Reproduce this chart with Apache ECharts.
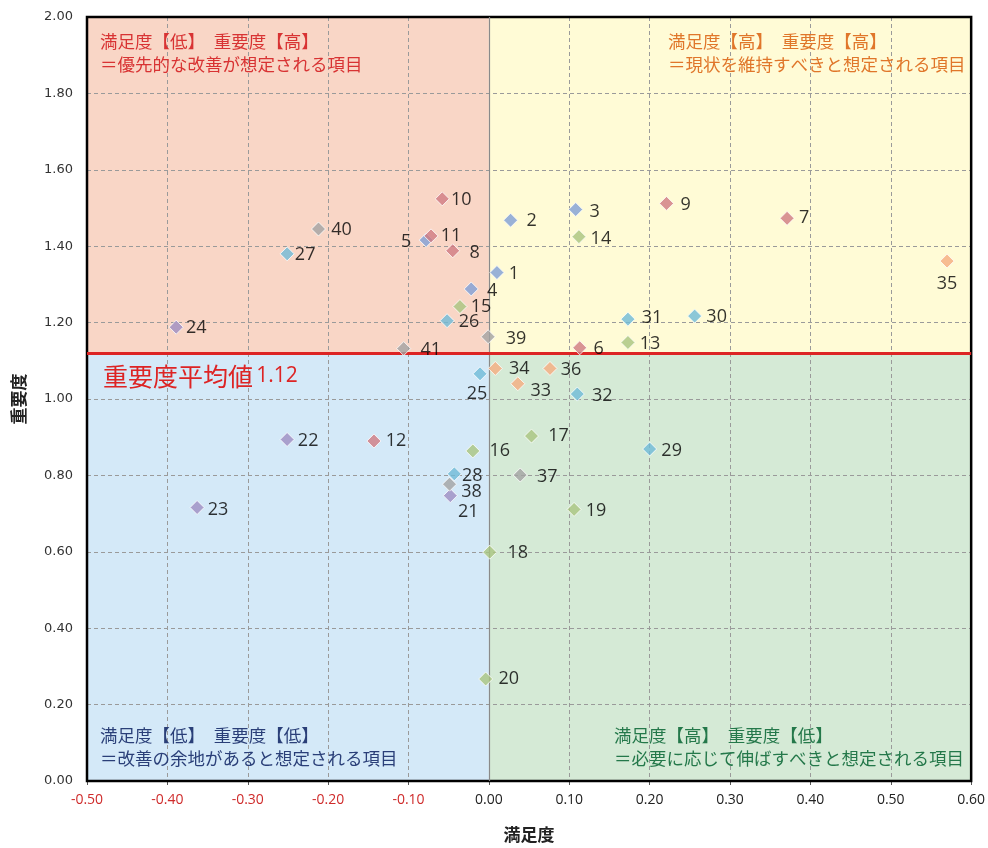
<!DOCTYPE html>
<html>
<head>
<meta charset="utf-8">
<script src="https://cdn.jsdelivr.net/npm/echarts@6/dist/echarts.min.js"></script>
<style>
  html, body { margin: 0; padding: 0; background: #fff; }
  #chart { width: 988px; height: 848px; }
</style>
</head>
<body>
<div id="chart"></div>
<script>
// Item numbers and their scores (満足度 = satisfaction, 重要度 = importance)
const itemIds = [1, 2, 3, 4, 5, 6, 7, 8, 9, 10, 11, 12, 13, 14, 15, 16, 17, 18, 19, 20,
  21, 22, 23, 24, 25, 26, 27, 28, 29, 30, 31, 32, 33, 34, 35, 36, 37, 38, 39, 40, 41];
const satisfaction = [0.010, 0.027, 0.108, -0.022, -0.078, 0.113, 0.371, -0.045, 0.221, -0.058,
  -0.072, -0.143, 0.173, 0.112, -0.036, -0.020, 0.053, 0.001, 0.106, -0.004,
  -0.048, -0.251, -0.363, -0.389, -0.011, -0.052, -0.251, -0.043, 0.200, 0.256,
  0.173, 0.110, 0.036, 0.008, 0.570, 0.076, 0.039, -0.049, -0.001, -0.212, -0.106];
const importance = [1.331, 1.468, 1.496, 1.288, 1.416, 1.134, 1.473, 1.388, 1.512, 1.524,
  1.427, 0.890, 1.148, 1.425, 1.242, 0.864, 0.903, 0.599, 0.711, 0.267,
  0.747, 0.894, 0.716, 1.188, 1.066, 1.205, 1.380, 0.804, 0.869, 1.217,
  1.209, 1.013, 1.040, 1.080, 1.361, 1.080, 0.801, 0.777, 1.163, 1.445, 1.132];
// Category group of each item (drives marker colour)
const itemGroup = ['A', 'A', 'A', 'A', 'A', 'B', 'B', 'B', 'B', 'B',
  'B', 'B', 'C', 'C', 'C', 'C', 'C', 'C', 'C', 'C',
  'D', 'D', 'D', 'D', 'E', 'E', 'E', 'E', 'E', 'E',
  'E', 'E', 'F', 'F', 'F', 'F', 'G', 'G', 'G', 'G', 'G'];
const importanceMean = 1.12;

// Axis ranges and ticks
const xMin = -0.5, xMax = 0.6, xStep = 0.1;
const yMin = 0, yMax = 2, yStep = 0.2;

// Styling tables
const groupColors = {
  A: '#7f9fd6', B: '#cf7b82', C: '#a9c47f', D: '#9e8dc2',
  E: '#6fbad7', F: '#f5ad80', G: '#a3a3a3'
};
// Label placement (dx, dy from the marker centre, in px)
const labelShift = {
  1: [17, 1], 2: [21, 1], 3: [19, 2], 4: [21, 2], 5: [-20, 2], 6: [19, 1], 7: [17, 0],
  8: [22, 2], 9: [19, 1], 10: [19, 1], 11: [20, 0], 12: [22, 0], 13: [22, 1], 14: [22, 2],
  15: [21, 0], 16: [27, 0], 17: [27, 0], 18: [28, 1], 19: [22, 1], 20: [23, 0], 21: [18, 16],
  22: [21, 1], 23: [21, 2], 24: [20, 1], 25: [-3, 20], 26: [22, 1], 27: [18, 1], 28: [18, 2],
  29: [22, 2], 30: [22, 1], 31: [24, -1], 32: [25, 2], 33: [23, 7], 34: [24, 0], 35: [0, 23],
  36: [21, 1], 37: [27, 2], 38: [22, 8], 39: [28, 2], 40: [23, 1], 41: [27, 1]
};

const LATIN = '"Open Sans", "Noto Sans", sans-serif';
const CJK = '"Noto Sans CJK JP", "Noto Sans", sans-serif';

// Build one scatter series per group
const groupNames = Object.keys(groupColors);
const pointSeries = groupNames.map(g => ({
  type: 'scatter',
  name: g,
  z: 6,
  symbol: 'diamond',
  symbolSize: 14,
  itemStyle: { color: groupColors[g], borderColor: '#ffffff', borderWidth: 1 },
  data: itemIds
    .map((id, i) => ({ id, i }))
    .filter(o => itemGroup[o.i] === g)
    .map(o => ({
      value: [satisfaction[o.i], importance[o.i]],
      label: { offset: labelShift[o.id] || [20, 0] },
      itemNo: o.id
    })),
  label: {
    show: true,
    position: 'inside',
    align: 'center',
    verticalAlign: 'middle',
    color: '#000',
    textBorderWidth: 0,
    textBorderColor: 'transparent',
    fontFamily: LATIN,
    fontWeight: 500,
    fontSize: 18,
    formatter: p => String(p.data.itemNo)
  }
}));

// Quadrant backgrounds and reference lines
const backdrop = {
  type: 'scatter',
  z: 1,
  silent: true,
  data: [],
  markArea: {
    silent: true,
    data: [
      [{ xAxis: xMin, yAxis: importanceMean, itemStyle: { color: '#f9d6c6' } }, { xAxis: 0, yAxis: yMax }],
      [{ xAxis: 0, yAxis: importanceMean, itemStyle: { color: '#fffbd6' } }, { xAxis: xMax, yAxis: yMax }],
      [{ xAxis: xMin, yAxis: yMin, itemStyle: { color: '#d4e9f8' } }, { xAxis: 0, yAxis: importanceMean }],
      [{ xAxis: 0, yAxis: yMin, itemStyle: { color: '#d5ead6' } }, { xAxis: xMax, yAxis: importanceMean }]
    ]
  }
};
const refLines = {
  type: 'scatter',
  z: 5,
  silent: true,
  data: [],
  markLine: {
    silent: true,
    symbol: 'none',
    label: { show: false },
    data: [
      [{ coord: [0, yMin], lineStyle: { color: '#8a8a8a', width: 1.2, type: 'solid' } }, { coord: [0, yMax] }],
      [{ coord: [xMin, importanceMean], lineStyle: { color: '#dd2424', width: 3, type: 'solid' } }, { coord: [xMax, importanceMean] }]
    ]
  }
};

const chart = echarts.init(document.getElementById('chart'), null, { renderer: 'canvas' });
chart.setOption({
  animation: false,
  backgroundColor: '#ffffff',
  grid: {
    left: 87, right: 15, top: 17, bottom: 67,
    show: true, z: 4,
    borderColor: '#000000', borderWidth: 2.5,
    backgroundColor: 'transparent'
  },
  xAxis: {
    type: 'value', min: xMin, max: xMax, interval: xStep, z: 3,
    name: '満足度', nameLocation: 'middle', nameGap: 45,
    nameTextStyle: { fontFamily: CJK, fontSize: 17, color: '#222', fontWeight: 'bold' },
    axisLine: { show: false },
    axisTick: { show: true, length: 4, lineStyle: { color: '#555' } },
    axisLabel: {
      margin: 12,
      fontFamily: LATIN, fontSize: 14,
      formatter: v => {
        const s = v.toFixed(2);
        return v < -1e-9 ? '{neg|' + s + '}' : '{pos|' + s + '}';
      },
      rich: {
        neg: { color: '#cf2b2b', fontFamily: LATIN, fontSize: 14 },
        pos: { color: '#222', fontFamily: LATIN, fontSize: 14 }
      }
    },
    splitLine: { show: true, lineStyle: { color: '#9a9a9a', type: [4, 3], width: 1 } }
  },
  yAxis: {
    type: 'value', min: yMin, max: yMax, interval: yStep, z: 3,
    name: '重要度', nameLocation: 'middle', nameGap: 60, nameRotate: 90,
    nameTextStyle: { fontFamily: CJK, fontSize: 17, color: '#222', fontWeight: 'bold' },
    axisLine: { show: false },
    axisTick: { show: false },
    axisLabel: {
      margin: 14,
      fontFamily: '"DejaVu Sans", sans-serif', fontSize: 13, color: '#333',
      formatter: v => v.toFixed(2)
    },
    splitLine: { show: true, lineStyle: { color: '#9a9a9a', type: [4, 3], width: 1 } }
  },
  graphic: [
    {
      type: 'text', left: 100, top: 30, z: 20,
      style: {
        text: '満足度【低】　重要度【高】\n＝優先的な改善が想定される項目',
        fill: '#d83333', font: '17.5px ' + CJK, lineHeight: 23
      }
    },
    {
      type: 'text', left: 668, top: 30, z: 20,
      style: {
        text: '満足度【高】　重要度【高】\n＝現状を維持すべきと想定される項目',
        fill: '#e0762a', font: '17.5px ' + CJK, lineHeight: 23
      }
    },
    {
      type: 'text', left: 100, top: 724, z: 20,
      style: {
        text: '満足度【低】　重要度【低】\n＝改善の余地があると想定される項目',
        fill: '#2a3f78', font: '17.5px ' + CJK, lineHeight: 23
      }
    },
    {
      type: 'text', left: 614, top: 724, z: 20,
      style: {
        text: '満足度【高】　重要度【低】\n＝必要に応じて伸ばすべきと想定される項目',
        fill: '#24784a', font: '17.5px ' + CJK, lineHeight: 23
      }
    },
    {
      type: 'text', left: 103, top: 364, z: 20,
      style: {
        text: '{a|重要度平均値} {b|' + importanceMean.toFixed(2) + '}',
        rich: {
          a: { fill: '#dd2424', font: '25px ' + CJK },
          b: { fill: '#dd2424', font: '21px ' + LATIN }
        }
      }
    }
  ],
  series: [backdrop, refLines].concat(pointSeries)
});
</script>
</body>
</html>
